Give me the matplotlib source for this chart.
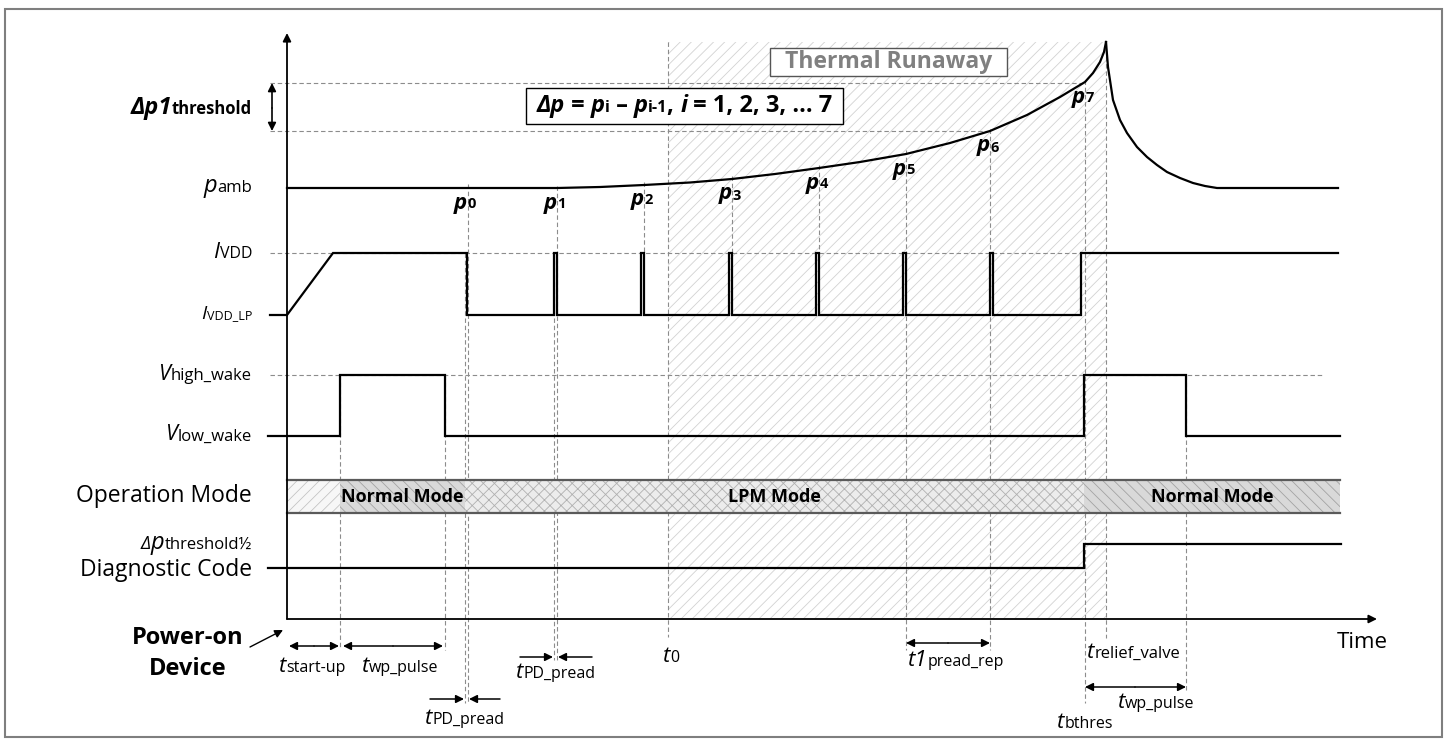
import matplotlib
matplotlib.use('Agg')
import matplotlib.pyplot as plt
from matplotlib.patches import Rectangle
from matplotlib.offsetbox import TextArea, HPacker, AnnotationBbox

plt.rcParams['font.family'] = ['Open Sans', 'DejaVu Sans']
plt.rcParams['hatch.linewidth'] = 0.6

# signal rows (levels on the diagram)
p_amb, i_vdd, i_vdd_lp = 188, 253, 315
v_high, v_low = 375, 436
diag_low, diag_high = 568, 544
axis_x, axis_y = 287, 619
dp_top, dp_bot = 83, 131

# events along the time axis
t_start = 270
t_on = 287
t_ramp_end = 333
t_wake_on = [340, 1084]
t_wake_off = [445, 1186]
t_lpm = 467
t_pulses = [554, 641, 729, 816, 903, 990]
pulse_w = 3
t_back_high = 1081
t_0 = 668
t_relief = 1106
t_end = 1338

# pressure trace
rise_x = [287, 470, 557, 600, 644, 690, 732, 775, 819, 860, 906, 950, 990,
          1027, 1060, 1085, 1093, 1100, 1104, 1106]
rise_y = [188, 188, 188, 187, 185, 182.5, 179, 174, 168, 162, 154, 143, 131,
          115, 97, 82, 73, 62, 52, 42]
fall_x = [1106, 1108, 1113, 1120, 1127, 1137, 1147, 1157, 1167, 1180, 1193,
          1205, 1217, 1338]
fall_y = [42, 67, 100, 120, 133, 147, 157, 165, 172, 178, 183, 186, 188, 188]

# pressure reads p0..p7
read_x = [467, 557, 644, 732, 819, 906, 990, 1085]
read_y = [188, 188, 184, 179, 168, 154, 131, 82]

# operation modes
mode_edges = [287, 340, 465, 1084, 1340]
mode_names = ['', 'Normal Mode', 'LPM Mode', 'Normal Mode']
mode_top, mode_bot = 480, 513

fig = plt.figure(figsize=(14.48, 7.45), dpi=100)
ax = fig.add_axes([0, 0, 1, 1])
ax.set_xlim(0, 1448)
ax.set_ylim(745, 0)
ax.axis('off')

GUIDE = dict(color='#8c8c8c', lw=0.8, ls=(0, (4, 2.5)), zorder=1)
SIG = dict(color='black', lw=1.6, zorder=3, solid_joinstyle='miter')


def rich(x, y, parts, align=(0.5, 0.5)):
    boxes = []
    for s, fs, w, st, c in parts:
        boxes.append(TextArea(s, textprops=dict(fontsize=fs, fontweight=w, fontstyle=st, color=c)))
    pack = HPacker(children=boxes, align='baseline', pad=0, sep=0)
    ab = AnnotationBbox(pack, (x, y), xycoords='data', box_alignment=align,
                        frameon=False, pad=0, zorder=5)
    ax.add_artist(ab)


def arrow(x0, y0, x1, y1, style='-|>', lw=1.1):
    ax.annotate('', xy=(x1, y1), xytext=(x0, y0),
                arrowprops=dict(arrowstyle=style, color='black', lw=lw,
                                mutation_scale=12, shrinkA=0, shrinkB=0), zorder=4)


# outer frame
ax.add_patch(Rectangle((5, 9), 1437, 728, fc='none', ec='#7f7f7f', lw=1.5, zorder=0))

# thermal runaway region
ax.add_patch(Rectangle((t_0, 42), t_relief - t_0, axis_y - 42, fc='none',
                       ec='#d2d2d2', lw=0, hatch='///', zorder=0))

# horizontal guides
ax.plot([270, 1085], [dp_top, dp_top], **GUIDE)
ax.plot([270, 990], [dp_bot, dp_bot], **GUIDE)
ax.plot([270, t_back_high], [i_vdd, i_vdd], **GUIDE)
ax.plot([270, 1324], [v_high, v_high], **GUIDE)

# vertical guides
vguides = [(340, v_high, 647), (445, v_high, 650), (465, i_vdd, 703), (468, 184, 703),
           (554, i_vdd, 660), (557, 186, 660), (644, 182, i_vdd), (732, 176, i_vdd),
           (819, 165, i_vdd), (906, 150, 650), (990, 129, 650), (1085, 80, 703),
           (t_relief, 42, 638), (1186, v_high, 692), (t_0, 42, 637)]
for gx, g0, g1 in vguides:
    ax.plot([gx, gx], [g0, g1], **GUIDE)

# axes
arrow(axis_x, axis_y, axis_x, 33, lw=1.3)
arrow(axis_x, axis_y, 1377, axis_y, lw=1.3)

# pressure
ax.plot(rise_x, rise_y, **SIG)
ax.plot(fall_x, fall_y, **SIG)

# supply current
ix = [t_start, t_on, t_ramp_end, t_lpm, t_lpm]
iy = [i_vdd_lp, i_vdd_lp, i_vdd, i_vdd, i_vdd_lp]
for tp in t_pulses:
    ix += [tp, tp, tp + pulse_w, tp + pulse_w]
    iy += [i_vdd_lp, i_vdd, i_vdd, i_vdd_lp]
ix += [t_back_high, t_back_high, t_end]
iy += [i_vdd_lp, i_vdd, i_vdd]
ax.plot(ix, iy, **SIG)

# wake pin
vx = [268]
vy = [v_low]
for on, off in zip(t_wake_on, t_wake_off):
    vx += [on, on, off, off]
    vy += [v_low, v_high, v_high, v_low]
vx += [1340]
vy += [v_low]
ax.plot(vx, vy, **SIG)

# diagnostic code
ax.plot([268, 1084, 1084, 1341], [diag_low, diag_low, diag_high, diag_high], **SIG)

# operation mode bar
mode_style = [dict(fc='#f7f7f7', ec='#c4c4c4', hatch='///'),
              dict(fc='#d9d9d9', ec='#a3a3a3', hatch='\\\\\\'),
              dict(fc='#ececec', ec='#b0b0b0', hatch='xxx'),
              dict(fc='#d9d9d9', ec='#a3a3a3', hatch='\\\\\\')]
for k, name in enumerate(mode_names):
    x0, x1 = mode_edges[k], mode_edges[k + 1]
    ax.add_patch(Rectangle((x0, mode_top), x1 - x0, mode_bot - mode_top, lw=0,
                           zorder=2, **mode_style[k]))
    if name:
        ax.text((x0 + x1) / 2, (mode_top + mode_bot) / 2 + 1, name, fontsize=13,
                fontweight='bold', ha='center', va='center', zorder=5)
ax.plot([axis_x, 1340], [mode_top, mode_top], color='#5a5a5a', lw=1.6, zorder=3)
ax.plot([axis_x, 1340], [mode_bot, mode_bot], color='#5a5a5a', lw=1.6, zorder=3)

# boxes
ax.add_patch(Rectangle((770, 48), 237, 28, fc='white', ec='#555555', lw=1.0, zorder=4))
ax.text(888.5, 62, 'Thermal Runaway', fontsize=16.5, fontweight='bold', color='#808080',
        ha='center', va='center', zorder=5)
ax.add_patch(Rectangle((526, 88), 317, 36, fc='white', ec='black', lw=1.0, zorder=4))
BI, B = ('bold', 'italic'), ('bold', 'normal')
rich(684.5, 106, [('Δp', 17, *BI, 'k'), (' = ', 17, *B, 'k'), ('p', 17, *BI, 'k'),
                  ('i', 11.5, *B, 'k'), (' – ', 17, *B, 'k'), ('p', 17, *BI, 'k'),
                  ('i-1', 11.5, *B, 'k'), (', ', 17, *B, 'k'), ('i', 17, *BI, 'k'),
                  (' = 1, 2, 3, … 7', 17, *B, 'k')])

# threshold marker
arrow(272, 108, 272, dp_top, lw=1.2)
arrow(272, 108, 272, dp_bot, lw=1.2)

# p labels
for k, (px, py) in enumerate(zip(read_x, read_y)):
    rich(px - 2, py + 15, [('p', 16, *BI, 'k'), (str(k), 10.5, *B, 'k')])

# row labels on the left
N, I = ('normal', 'normal'), ('normal', 'italic')
rich(252, 108, [('Δp1', 17, *BI, 'k'), ('threshold', 12, *B, 'k')], align=(1, 0.5))
rich(252, 186, [('p', 17, *I, 'k'), ('amb', 12, *N, 'k')], align=(1, 0.5))
rich(252, 252, [('I', 16, *I, 'k'), ('VDD', 11.5, *N, 'k')], align=(1, 0.5))
rich(252, 314, [('I', 14, *I, 'k'), ('VDD_LP', 9, *N, 'k')], align=(1, 0.5))
rich(252, 374, [('V', 15.5, *I, 'k'), ('high_wake', 12, *N, 'k')], align=(1, 0.5))
rich(252, 435, [('V', 15.5, *I, 'k'), ('low_wake', 12, *N, 'k')], align=(1, 0.5))
ax.text(252, 496, 'Operation Mode', fontsize=16.5, ha='right', va='center')
rich(252, 543, [('Δ', 13, *I, 'k'), ('p', 17, *I, 'k'), ('threshold½', 12, *N, 'k')],
     align=(1, 0.5))
ax.text(252, 570, 'Diagnostic Code', fontsize=16.5, ha='right', va='center')

# bottom annotations
ax.text(188, 638, 'Power-on', fontsize=17, fontweight='bold', ha='center', va='center')
ax.text(188, 669, 'Device', fontsize=17, fontweight='bold', ha='center', va='center')
arrow(250, 647, 283, 630, lw=1.0)

arrow(314, 646, 289, 646)
arrow(314, 646, 339, 646)
arrow(393, 646, 343, 646)
arrow(393, 646, 443, 646)
arrow(430, 699, 464, 699)
arrow(500, 699, 469, 699)
arrow(520, 657, 553, 657)
arrow(592, 657, 558, 657)
arrow(948, 643, 906, 643)
arrow(948, 643, 990, 643)
arrow(1135, 687, 1085, 687)
arrow(1135, 687, 1186, 687)

T = ('t', 16, 'normal', 'italic', 'k')
rich(312, 666, [T, ('start-up', 11.5, *N, 'k')])
rich(400, 666, [T, ('wp_pulse', 11.5, *N, 'k')])
rich(465, 718, [T, ('PD_pread', 11.5, *N, 'k')])
rich(556, 672, [T, ('PD_pread', 11.5, *N, 'k')])
rich(671, 657, [T, ('0', 11.5, *N, 'k')])
rich(956, 661, [('t1', 16, 'normal', 'italic', 'k'), ('pread_rep', 11.5, *N, 'k')])
rich(1134, 652, [T, ('relief_valve', 12, *N, 'k')])
rich(1156, 703, [T, ('wp_pulse', 11.5, *N, 'k')])
rich(1085, 723, [T, ('bthres', 11.5, *N, 'k')])
ax.text(1362, 643, 'Time', fontsize=16, ha='center', va='center')

fig.savefig('out.png', dpi=100)
